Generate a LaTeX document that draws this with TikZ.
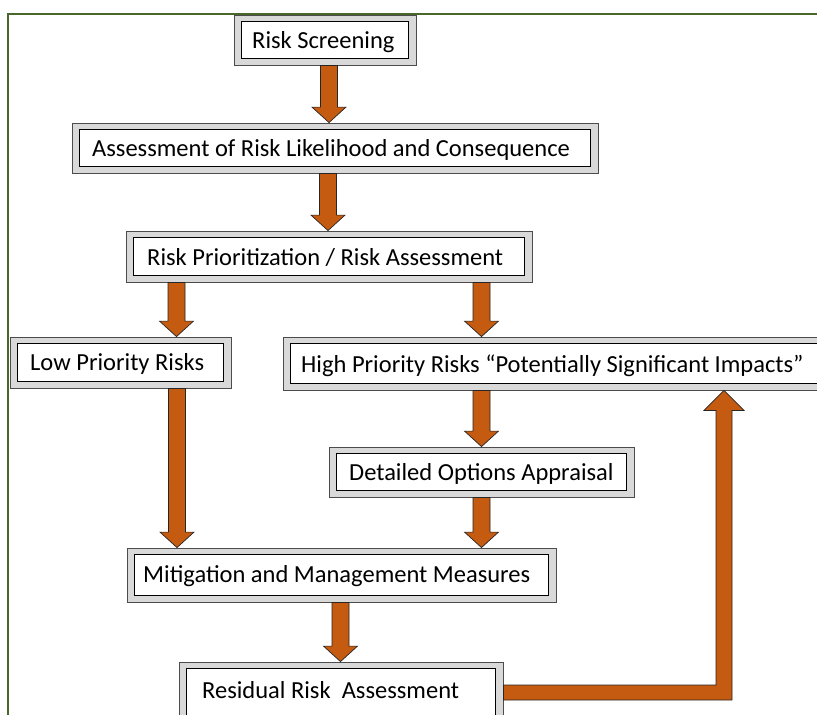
\documentclass[tikz,border=0pt]{standalone}
\usepackage{fontspec}
\setmainfont{Carlito}
\usetikzlibrary{calc}
\definecolor{arrfill}{HTML}{C55A11}
\definecolor{framegreen}{HTML}{4A672B}
\definecolor{boxgray}{HTML}{D9D9D9}
% name, x1, y1, x2, y2, text, text x, text baseline y
\newcommand\procbox[8]{%
  \node[outerbox, minimum width={(#4-#2)*1pt}, minimum height={(#5-#3)*1pt}] (#1) at ({(#2+#4)/2},{(#3+#5)/2}) {};
  \draw[innerbox] ([xshift=8pt,yshift=-7pt]#1.north west) rectangle ([xshift=-8pt,yshift=7pt]#1.south east);
  \node[lbl] (#1-t) at (#7,#8) {#6};}
% x, from node, to node
\newcommand\downarr[3]{%
  \draw[arr] let \p1=(#2.south), \p2=(#3.north) in
    ({#1pt-8.5pt},\y1) -- ({#1pt+8.5pt},\y1) -- ({#1pt+8.5pt},{\y2+15.5pt}) -- ({#1pt+17pt},{\y2+15.5pt})
    -- ({#1pt},\y2) -- ({#1pt-17pt},{\y2+15.5pt}) -- ({#1pt-8.5pt},{\y2+15.5pt}) -- cycle;}
\begin{document}
\begin{tikzpicture}[x=1pt,y=-1pt,
  outerbox/.style={rectangle, draw=black!70, fill=boxgray, line width=0.8pt, inner sep=0pt},
  innerbox/.style={draw=black, fill=white, line width=0.8pt},
  lbl/.style={font=\fontsize{24.5}{28}\selectfont, inner sep=0pt, anchor=base west},
  arr/.style={draw=black!85, fill=arrfill, line width=0.7pt, line join=miter},
  frameline/.style={draw=framegreen, line width=2.2pt}]
\useasboundingbox (0,0) rectangle (817,715);
\clip (0,0) rectangle (817,715);
\fill[white] (0,0) rectangle (817,715);
\draw[frameline] (8,730) -- (8,14) -- (830,14);

\procbox{scr}{234}{15}{416}{65}{Risk Screening}{252}{48.5}
\procbox{ass}{72}{123}{598}{173}{Assessment of Risk Likelihood and Consequence}{92}{156.5}
\procbox{pri}{126}{231}{532}{282}{Risk Prioritization / Risk Assessment}{147}{265}
\procbox{low}{10}{337}{231}{388}{Low Priority Risks}{30}{370.5}
\procbox{high}{283}{337}{840}{390}{High Priority Risks “Potentially Significant Impacts”}{301}{372}
\procbox{det}{329}{447}{634}{497}{Detailed Options Appraisal}{349}{480.5}
\procbox{mit}{127}{548}{556}{602}{Mitigation and Management Measures}{143}{582.5}
\procbox{res}{179}{662}{503}{725}{Residual Risk\ \ Assessment}{202}{698.5}

\downarr{329}{scr}{ass}
\downarr{328}{ass}{pri}
\downarr{176.5}{pri}{low}
\downarr{481.5}{pri}{high}
\downarr{177}{low}{mit}
\downarr{481.5}{high}{det}
\downarr{481.5}{det}{mit}
\downarr{340.5}{mit}{res}

\draw[arr] let \p1=(res.east), \p2=(high.south) in
  (\x1,-685pt) -- (716pt,-685pt) -- (716pt,{\y2-20pt}) -- (704pt,{\y2-20pt}) -- (724pt,\y2)
  -- (744pt,{\y2-20pt}) -- (732pt,{\y2-20pt}) -- (732pt,-700pt) -- (\x1,-700pt) -- cycle;
\end{tikzpicture}
\end{document}
